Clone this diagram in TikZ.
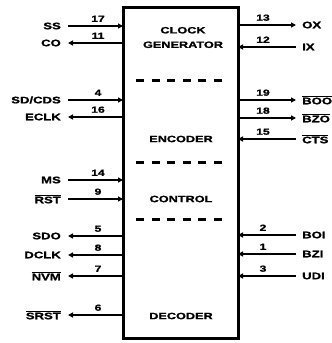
\documentclass[tikz,border=0pt]{standalone}
\usepackage{fontspec}
\setmainfont{Liberation Sans}
\newfontfamily\heavy[FakeStretch=1.38,FakeBold=1.2]{Liberation Sans Bold}
\usetikzlibrary{arrows.meta}
\begin{document}
\begin{tikzpicture}[x=1pt,y=-1pt,
  lbl/.style={font=\heavy\fontsize{9.5}{10}\selectfont,inner sep=0pt},
  num/.style={font=\heavy\fontsize{8.8}{9}\selectfont,inner sep=0pt,anchor=south},
  blk/.style={font=\heavy\fontsize{9.2}{14.5}\selectfont,align=center,inner sep=0pt},
  wire/.style={line width=1.7pt,-{Triangle[length=5pt,width=5pt]}},
  divider/.style={line width=3pt,dash pattern=on 8pt off 7.6pt}]
\useasboundingbox (0,0) rectangle (332,343);
\coordinate (tl) at (123,7);
\coordinate (br) at (238,338);
\draw[line width=3pt] (tl) rectangle (br);
\draw[divider] (136,80) -- (226,80);
\draw[divider] (136,162) -- (226,162);
\draw[divider] (136,219) -- (226,219);
\node[blk] (clk) at (183,37.5) {CLOCK\\GENERATOR};
\node[blk] (enc) at (181,139) {ENCODER};
\node[blk] (ctl) at (181,199) {CONTROL};
\node[blk] (dec) at (181,316) {DECODER};
% left pins
\foreach \name/\txt/\y/\n in {
  ss/SS/26/17, co/CO/43/11, sd/SD\slash CDS/100/4, eclk/ECLK/117/16,
  ms/MS/180/14, rst/$\overline{\mbox{RST}}$/199/9,
  sdo/SDO/236/5, dclk/DCLK/255/8, nvm/$\overline{\mbox{NVM}}$/276/7,
  srst/$\overline{\mbox{SRST}}$/315/6}{
  \node[lbl,anchor=east] (\name) at (61,\y) {\txt};
  \coordinate (\name-a) at (68,\y);
  \coordinate (\name-b) at (123,\y);
  \node[num] (\name-n) at (98,\y-4) {\n};
}
\foreach \name in {ss,sd,ms,rst}{\draw[wire] (\name-a) -- (\name-b);}
\foreach \name in {co,eclk,sdo,dclk,nvm,srst}{\draw[wire] (\name-b) -- (\name-a);}
% right pins
\foreach \name/\txt/\y/\n in {
  ox/OX/25/13, ix/IX/47/12, boo/$\overline{\mbox{BOO}}$/100/19, bzo/$\overline{\mbox{BZO}}$/118/18,
  cts/$\overline{\mbox{CTS}}$/139/15, boi/BOI/235/2, bzi/BZI/254/1, udi/UDI/276/3}{
  \node[lbl,anchor=west] (\name) at (302,\y) {\txt};
  \coordinate (\name-a) at (296,\y);
  \coordinate (\name-b) at (238,\y);
  \node[num] (\name-n) at (263,\y-4) {\n};
}
\foreach \name in {ox,boo,bzo}{\draw[wire] (\name-b) -- (\name-a);}
\foreach \name in {ix,cts,boi,bzi,udi}{\draw[wire] (\name-a) -- (\name-b);}
\end{tikzpicture}
\end{document}
